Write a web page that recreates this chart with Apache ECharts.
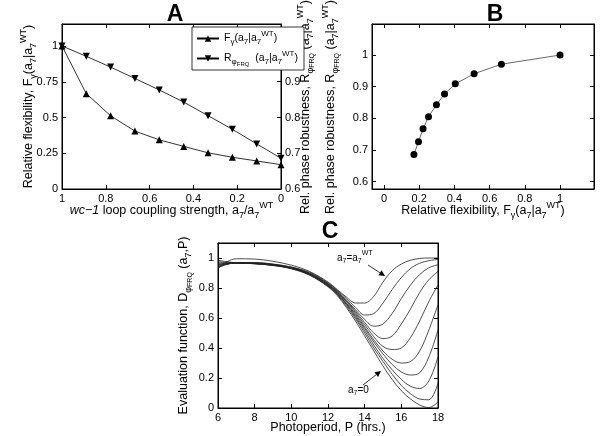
<!DOCTYPE html>
<html><head><meta charset="utf-8">
<script src="https://cdn.jsdelivr.net/npm/echarts@6/dist/echarts.min.js"></script>
<style>html,body{margin:0;padding:0;background:#fff}#c{width:600px;height:436px}</style>
</head><body><div id="c"></div>
<script>
// ---- Panel A / B data ----
const couplingRatio = [1, 0.889, 0.778, 0.667, 0.556, 0.444, 0.333, 0.222, 0.111, 0];
const flexibility = [1, 0.667, 0.512, 0.405, 0.344, 0.298, 0.253, 0.222, 0.196, 0.17];
const robustness = [1, 0.971, 0.941, 0.909, 0.877, 0.843, 0.805, 0.767, 0.726, 0.686];
// ---- Panel C data ----
const photoperiod = [6, 6.5, 7, 8, 9, 10, 11, 12, 12.5, 13, 13.5, 14, 14.5, 15, 15.5, 16, 16.5, 17, 17.5, 18];
const evalA7_1000 = [0.93, 0.975, 0.995, 0.993, 0.978, 0.952, 0.91, 0.84, 0.79, 0.74, 0.70, 0.70, 0.745, 0.84, 0.915, 0.96, 0.985, 0.997, 1.0, 1.0];
const evalA7_0889 = [0.935, 0.958, 0.97, 0.97, 0.96, 0.94, 0.905, 0.835, 0.785, 0.73, 0.67, 0.62, 0.63, 0.70, 0.79, 0.87, 0.93, 0.965, 0.982, 0.99];
const evalA7_0778 = [0.94, 0.958, 0.968, 0.968, 0.958, 0.938, 0.9, 0.83, 0.78, 0.72, 0.655, 0.59, 0.545, 0.56, 0.63, 0.73, 0.82, 0.89, 0.935, 0.955];
const evalA7_0667 = [0.945, 0.96, 0.967, 0.966, 0.956, 0.936, 0.897, 0.827, 0.775, 0.715, 0.645, 0.57, 0.50, 0.462, 0.48, 0.56, 0.66, 0.77, 0.855, 0.91];
const evalA7_0556 = [0.95, 0.962, 0.966, 0.965, 0.955, 0.934, 0.895, 0.824, 0.772, 0.71, 0.635, 0.555, 0.475, 0.41, 0.39, 0.40, 0.47, 0.58, 0.71, 0.82];
const evalA7_0444 = [0.955, 0.963, 0.966, 0.964, 0.954, 0.933, 0.893, 0.821, 0.768, 0.70, 0.625, 0.54, 0.455, 0.38, 0.325, 0.30, 0.31, 0.38, 0.52, 0.688];
const evalA7_0333 = [0.96, 0.965, 0.966, 0.963, 0.953, 0.932, 0.891, 0.818, 0.764, 0.695, 0.615, 0.53, 0.44, 0.36, 0.29, 0.24, 0.22, 0.235, 0.34, 0.52];
const evalA7_0222 = [0.967, 0.967, 0.966, 0.962, 0.952, 0.931, 0.889, 0.815, 0.76, 0.69, 0.605, 0.515, 0.42, 0.33, 0.255, 0.19, 0.145, 0.13, 0.18, 0.34];
const evalA7_0111 = [0.975, 0.97, 0.967, 0.962, 0.951, 0.93, 0.887, 0.812, 0.756, 0.68, 0.595, 0.50, 0.40, 0.31, 0.225, 0.15, 0.095, 0.06, 0.055, 0.165];
const evalA7_0000 = [0.985, 0.975, 0.968, 0.962, 0.95, 0.928, 0.885, 0.808, 0.75, 0.67, 0.58, 0.48, 0.38, 0.28, 0.19, 0.115, 0.06, 0.02, 0.003, 0.04];
const evalCurves = [evalA7_1000, evalA7_0889, evalA7_0778, evalA7_0667, evalA7_0556, evalA7_0444, evalA7_0333, evalA7_0222, evalA7_0111, evalA7_0000];

const FONT = 'Liberation Sans';
function rich(fs) {
  const lh = Math.round(fs * 1.6);
  const s = Math.round(fs * 0.72);
  return {
    n: {fontSize: fs, fontFamily: FONT, color: '#000', lineHeight: lh, verticalAlign: 'middle'},
    it: {fontSize: fs, fontFamily: FONT, color: '#000', lineHeight: lh, verticalAlign: 'middle', fontStyle: 'italic'},
    sub: {fontSize: s, fontFamily: FONT, color: '#000', lineHeight: s, verticalAlign: 'bottom', padding: [0, 0, 1, 0]},
    sup: {fontSize: s, fontFamily: FONT, color: '#000', lineHeight: s, verticalAlign: 'top'},
    ss: {fontSize: Math.round(fs * 0.55), fontFamily: FONT, color: '#000', lineHeight: Math.round(fs * 0.55), verticalAlign: 'bottom'}
  };
}
const R12 = rich(12.5);
const lblF = '{n|Relative flexibility, F}{sub|γ}{n|(a}{sub|7}{n||a}{sub|7}{sup|WT}{n|)}';
const lblR = '{n|Rel. phase robustness, R}{sub|φ}{ss|FRQ}{n| (a}{sub|7}{n||a}{sub|7}{sup|WT}{n|)}';
const lblXA = '{it|wc−1}{n| loop coupling strength, a}{sub|7}{n|/a}{sub|7}{sup|WT}';
const lblXB = '{n|Relative flexibility, F}{sub|γ}{n|(a}{sub|7}{n||a}{sub|7}{sup|WT}{n|)}';
const lblYC = '{n|Evaluation function, D}{sub|φ}{ss|FRQ}{n| (a}{sub|7}{n|,P)}';
const lblXC = '{n|Photoperiod, P (hrs.)}';

const tickStyle = {show: true, inside: true, length: 4, lineStyle: {color: '#000', width: 1}};
const lineStyle = {show: true, onZero: false, lineStyle: {color: '#000', width: 1}};
const labStyle = {color: '#000', fontSize: 11, fontFamily: FONT, margin: 4};
function mirror(base) {
  return Object.assign({}, base, {axisLabel: {show: false}, name: '', axisTick: tickStyle, axisLine: lineStyle, splitLine: {show: false}});
}
function cleanFmt(step) {
  return v => (Math.abs(v / step - Math.round(v / step)) < 1e-6 ? String(+v.toFixed(3)) : '');
}
const nameCommon = {nameLocation: 'middle', nameMoveOverlap: false, nameTextStyle: {rich: R12}};

const xA = Object.assign({type: 'value', gridIndex: 0, min: 0, max: 1, interval: 0.2, inverse: true, position: 'bottom',
  axisTick: tickStyle, axisLine: lineStyle, splitLine: {show: false}, axisLabel: labStyle,
  name: lblXA, nameGap: 12}, nameCommon);
const xB = Object.assign({type: 'value', gridIndex: 1, min: -0.068, max: 1.193, splitNumber: 6, position: 'bottom',
  axisTick: tickStyle, axisLine: lineStyle, splitLine: {show: false},
  axisLabel: Object.assign({}, labStyle, {showMinLabel: false, showMaxLabel: false, formatter: cleanFmt(0.2)}),
  name: lblXB, nameGap: 12}, nameCommon);
const xC = Object.assign({type: 'value', gridIndex: 2, min: 6, max: 18, interval: 2, position: 'bottom',
  axisTick: tickStyle, axisLine: lineStyle, splitLine: {show: false}, axisLabel: labStyle,
  name: lblXC, nameGap: 10}, nameCommon);

const yAL = Object.assign({type: 'value', gridIndex: 0, min: 0, max: 1.154, interval: 0.25, position: 'left',
  axisTick: tickStyle, axisLine: lineStyle, splitLine: {show: false},
  axisLabel: Object.assign({}, labStyle, {showMaxLabel: false, formatter: cleanFmt(0.25)}),
  name: lblF, nameRotate: 90, nameGap: 23}, nameCommon);
const yAR = {type: 'value', gridIndex: 0, min: 0.6, max: 1.0615, interval: 0.1, position: 'right',
  axisTick: tickStyle, axisLine: lineStyle, splitLine: {show: false},
  axisLabel: Object.assign({}, labStyle, {showMaxLabel: false, formatter: cleanFmt(0.1)})};
const yB = {type: 'value', gridIndex: 1, min: 0.577, max: 1.098, splitNumber: 5, position: 'left',
  axisTick: tickStyle, axisLine: lineStyle, splitLine: {show: false},
  axisLabel: Object.assign({}, labStyle, {showMinLabel: false, showMaxLabel: false, formatter: cleanFmt(0.1)})};
const yC = Object.assign({type: 'value', gridIndex: 2, min: 0, max: 1.1, interval: 0.2, position: 'left',
  axisTick: tickStyle, axisLine: lineStyle, splitLine: {show: false},
  axisLabel: Object.assign({}, labStyle, {showMaxLabel: false, formatter: cleanFmt(0.2)}),
  name: lblYC, nameRotate: 90, nameGap: 24}, nameCommon);

const xAxes = [xA, xB, xC,
  Object.assign(mirror(xA), {position: 'top'}),
  Object.assign(mirror(xB), {position: 'top'}),
  Object.assign(mirror(xC), {position: 'top'})];
const yAxes = [yAL, yAR, yB, yC,
  Object.assign(mirror(yB), {position: 'right'}),
  Object.assign(mirror(yC), {position: 'right'})];

const series = [
  {name: 'F', type: 'line', xAxisIndex: 0, yAxisIndex: 0, data: couplingRatio.map((x, i) => [x, flexibility[i]]),
   symbol: 'triangle', symbolSize: 7, lineStyle: {color: '#000', width: 0.8}, itemStyle: {color: '#000'}, z: 3},
  {name: 'R', type: 'line', xAxisIndex: 0, yAxisIndex: 1, data: couplingRatio.map((x, i) => [x, robustness[i]]),
   symbol: 'triangle', symbolRotate: 180, symbolSize: 7, lineStyle: {color: '#000', width: 0.8}, itemStyle: {color: '#000'}, z: 3},
  {name: 'B', type: 'line', xAxisIndex: 1, yAxisIndex: 2, data: flexibility.map((x, i) => [x, robustness[i]]),
   symbol: 'circle', symbolSize: 7, lineStyle: {color: '#444', width: 0.8}, itemStyle: {color: '#000'}}
];
evalCurves.forEach((c, k) => {
  series.push({name: 'C' + k, type: 'line', xAxisIndex: 2, yAxisIndex: 3, smooth: 0.35, symbol: 'none',
    data: photoperiod.map((p, i) => [p, c[i]]), lineStyle: {color: '#222', width: 0.8}, clip: true});
});

function arrow(x1, y1, x2, y2) {
  const a = Math.atan2(y2 - y1, x2 - x1), L = 6, W = 3;
  const bx = x2 - L * Math.cos(a), by = y2 - L * Math.sin(a);
  return [
    {type: 'line', shape: {x1: x1, y1: y1, x2: bx, y2: by}, style: {stroke: '#000', lineWidth: 0.8}},
    {type: 'polygon', shape: {points: [[x2, y2], [bx + W * Math.sin(a), by - W * Math.cos(a)], [bx - W * Math.sin(a), by + W * Math.cos(a)]]}, style: {fill: '#000'}}
  ];
}
const R10 = rich(10);
const graphics = [
  {type: 'text', x: 175, y: 15, style: {text: 'A', fontSize: 23, fontWeight: 'bold', fontFamily: FONT, fill: '#000', align: 'center', verticalAlign: 'middle'}},
  {type: 'text', x: 495, y: 15, style: {text: 'B', fontSize: 23, fontWeight: 'bold', fontFamily: FONT, fill: '#000', align: 'center', verticalAlign: 'middle'}},
  {type: 'text', x: 330, y: 232, style: {text: 'C', fontSize: 23, fontWeight: 'bold', fontFamily: FONT, fill: '#000', align: 'center', verticalAlign: 'middle'}},
  {type: 'text', x: 306, y: 107, rotation: Math.PI / 2, style: {text: lblR, rich: R12, align: 'center', verticalAlign: 'middle'}},
  {type: 'text', x: 331, y: 107, rotation: Math.PI / 2, style: {text: lblR, rich: R12, align: 'center', verticalAlign: 'middle'}},
  {type: 'text', x: 337, y: 258, style: {text: '{n|a}{sub|7}{n|=a}{sub|7}{sup|WT}', rich: R10, align: 'left', verticalAlign: 'middle'}},
  {type: 'text', x: 348, y: 390, style: {text: '{n|a}{sub|7}{n|=0}', rich: R10, align: 'left', verticalAlign: 'middle'}}
].concat(arrow(368, 265, 385, 276), arrow(363, 385, 381, 371));

const option = {
  animation: false,
  backgroundColor: '#fff',
  textStyle: {fontFamily: FONT},
  grid: [
    {left: 62, top: 24, width: 219, height: 165, show: true, borderColor: '#000', borderWidth: 1},
    {left: 372, top: 24, width: 222, height: 165, show: true, borderColor: '#000', borderWidth: 1},
    {left: 218, top: 243, width: 220, height: 165, show: true, borderColor: '#000', borderWidth: 1}
  ],
  xAxis: xAxes,
  yAxis: yAxes,
  legend: {
    data: ['F', 'R'], orient: 'vertical', left: 192, top: 27, padding: [3, 6, 3, 4],
    borderColor: '#000', borderWidth: 0.8, backgroundColor: '#fff', itemWidth: 22, itemHeight: 8, itemGap: 3,
    formatter: n => n === 'F' ? '{n|F}{sub|γ}{n|(a}{sub|7}{n||a}{sub|7}{sup|WT}{n|)}' : '{n|R}{sub|φ}{ss|FRQ}{n|  (a}{sub|7}{n||a}{sub|7}{sup|WT}{n|)}',
    textStyle: {rich: rich(10.5)}
  },
  series: series,
  graphic: graphics
};
const chart = echarts.init(document.getElementById('c'), null, {renderer: 'canvas'});
chart.setOption(option);
</script></body></html>
